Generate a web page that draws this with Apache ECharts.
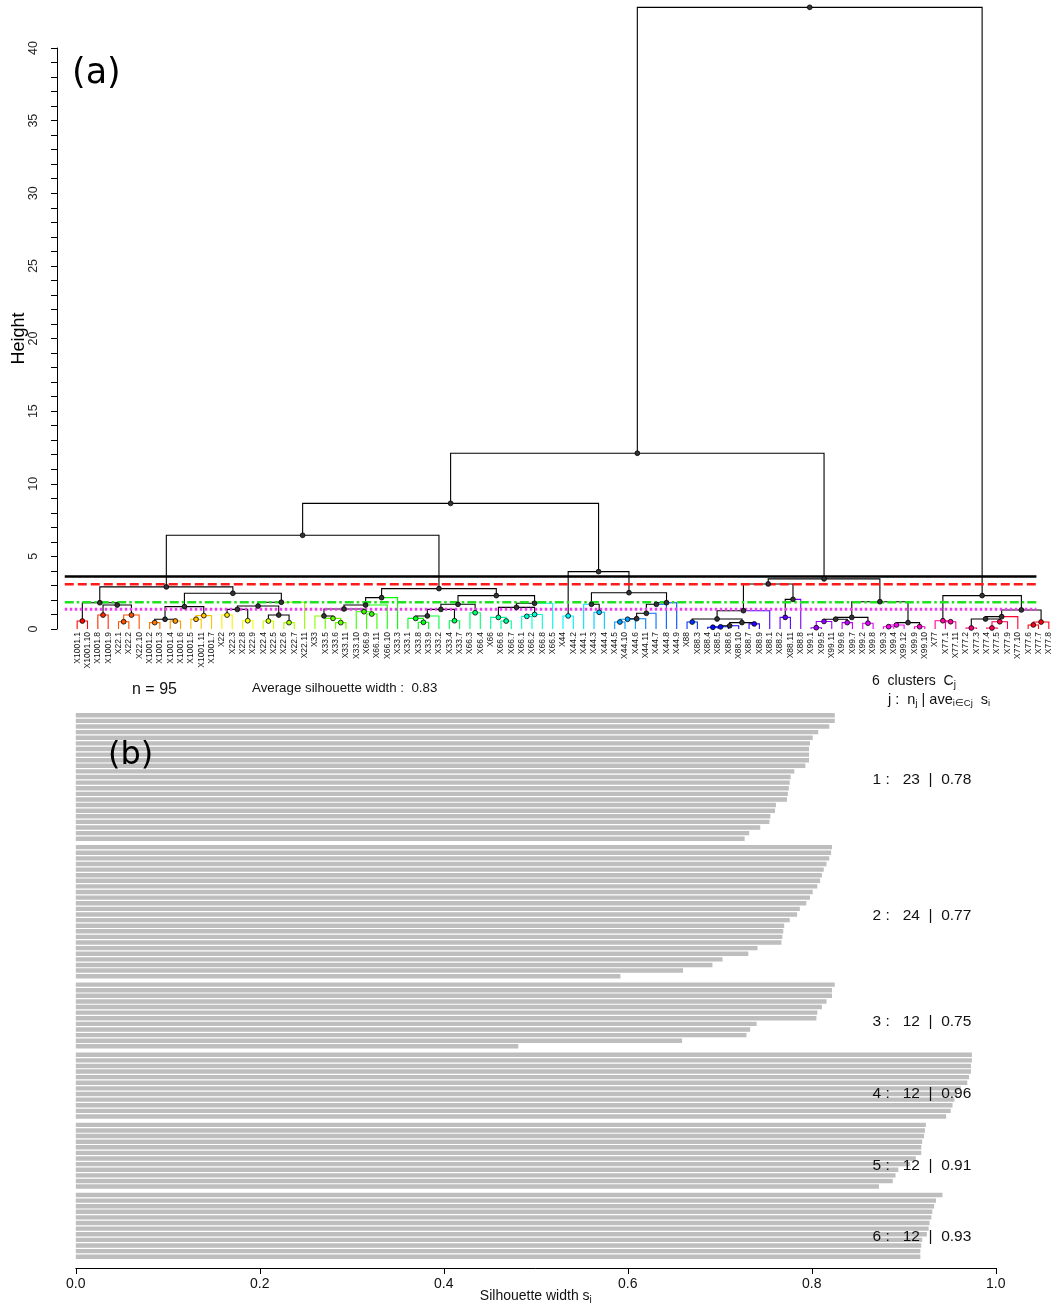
<!DOCTYPE html>
<html>
<head>
<meta charset="utf-8">
<title>Dendrogram and silhouette plot</title>
<script src="https://cdn.jsdelivr.net/npm/echarts@6/dist/echarts.min.js"></script>
<style>
  html, body { margin: 0; padding: 0; background: #fff; }
  #chart { width: 1054px; height: 1305px; }
</style>
</head>
<body>
<div id="chart"></div>
<script>
// leaves in dendrogram order
const leafLabels = [
  'X1001.1','X1001.10','X1001.8','X1001.9','X22.1','X22.2','X22.10','X1001.2','X1001.3','X1001.4','X1001.6','X1001.5',
  'X1001.11','X1001.7','X22','X22.3','X22.8','X22.9','X22.4','X22.5','X22.6','X22.7','X22.11',
  'X33','X33.5','X33.6','X33.11','X33.10','X66.9','X66.11','X66.10','X33.3','X33.1','X33.8','X33.9','X33.2',
  'X33.4','X33.7','X66.3','X66.4','X66','X66.6','X66.7','X66.1','X66.2','X66.8','X66.5',
  'X44','X44.2','X44.1','X44.3','X44.4','X44.5','X44.10','X44.6','X44.11','X44.7','X44.8','X44.9',
  'X88','X88.3','X88.4','X88.5','X88.6','X88.10','X88.7','X88.9','X88.1','X88.2','X88.11','X88.8',
  'X99.1','X99.5','X99.11','X99.6','X99.7','X99.2','X99.8','X99.3','X99.4','X99.12','X99.9','X99.10',
  'X77','X77.1','X77.11','X77.2','X77.3','X77.4','X77.5','X77.9','X77.10','X77.6','X77.7','X77.8'
];

// merges: [left, right, height], a number is a leaf index
const treeC1 = [
  [[0, 1, 0.55], [[2, 3, 0.96], [[4, 5, 0.5], 6, 0.96], 1.65], 1.81],
  [[[[7, 8, 0.44], [9, 10, 0.55], 0.67], [[11, 12, 0.67], 13, 0.92], 1.54],
   [[[[14, 15, 0.96], [16, 17, 0.57], 1.35], [[18, 19, 0.55], [20, 21, 0.44], 0.96], 1.58], 22, 1.84], 2.46],
  2.9];
const treeC2 = [
  [[[[23, [24, [25, 26, 0.44], 0.73], 0.9], [27, [28, 29, 1.03], 1.19], 1.38], 30, 1.65], 31, 2.16],
  [[[[[32, [33, 34, 0.46], 0.73], 35, 0.9], [36, 37, 0.57], 1.35], [38, 39, 1.12], 1.7],
   [[[40, [41, 42, 0.55], 0.8], [[43, 44, 0.87], 45, 1.0], 1.49], 46, 1.77], 2.3],
  2.78];
const treeC3 = [[47, 48, 0.9],
  [[49, [50, 51, 1.15], 1.7], [[[[[[52, 53, 0.48], 54, 0.67], 55, 0.71], 56, 1.08], 57, 1.7], 58, 1.81], 2.5],
  3.95];
const treeC4 = [
  [[[59, 60, 0.48], [[[[61, 62, 0.12], 63, 0.15], 64, 0.22], [65, 66, 0.35], 0.44], 0.69], 67, 1.26],
  [[68, 69, 0.8], 70, 2.04],
  3.1];
const treeC5 = [
  [[[[71, 72, 0.09], 73, 0.52], [74, 75, 0.44], 0.67], [76, 77, 0.4], 0.8],
  [[[78, 79, 0.16], 80, 0.28], [81, 82, 0.16], 0.44],
  1.88];
const treeC6 = [
  [83, [84, 85, 0.5], 0.57],
  [[[[86, 87, 0.07], [[88, 89, 0.07], 90, 0.5], 0.69], 91, 0.85], [[92, 93, 0.28], 94, 0.48], 1.31],
  2.3];
const tree = [[[[treeC1, treeC2, 6.45], treeC3, 8.65], [treeC4, treeC5, 3.45], 12.1], treeC6, 42.8];

const cutHeights = [3.62, 3.08, 1.85, 1.36];
const heightTicks = [0, 5, 10, 15, 20, 25, 30, 35, 40];

// silhouette widths, per cluster, sorted
const silC1 = [0.825, 0.825, 0.819, 0.807, 0.801, 0.798, 0.797, 0.797, 0.797, 0.793, 0.781, 0.777,
               0.776, 0.775, 0.774, 0.773, 0.761, 0.760, 0.755, 0.754, 0.744, 0.732, 0.727];
const silC2 = [0.822, 0.821, 0.819, 0.816, 0.813, 0.811, 0.809, 0.806, 0.801, 0.798, 0.794, 0.787,
               0.784, 0.776, 0.770, 0.769, 0.768, 0.767, 0.741, 0.731, 0.703, 0.692, 0.660, 0.592];
const silC3 = [0.825, 0.822, 0.822, 0.816, 0.811, 0.806, 0.805, 0.740, 0.733, 0.729, 0.659, 0.481];
const silC4 = [0.974, 0.974, 0.973, 0.973, 0.971, 0.969, 0.962, 0.958, 0.955, 0.953, 0.951, 0.946];
const silC5 = [0.924, 0.923, 0.922, 0.920, 0.919, 0.919, 0.913, 0.907, 0.894, 0.891, 0.888, 0.873];
const silC6 = [0.942, 0.935, 0.933, 0.931, 0.930, 0.928, 0.927, 0.925, 0.920, 0.919, 0.918, 0.918];
const silClusters = [silC1, silC2, silC3, silC4, silC5, silC6];
const silTicks = ['0.0', '0.2', '0.4', '0.6', '0.8', '1.0'];

// ---- dendrogram layout
const nodes = [];
function build(t) {
  if (typeof t === 'number') return { leaf: true, x: t, h: 0, size: 1, sum: t };
  const a = build(t[0]), b = build(t[1]);
  const n = { leaf: false, a: a, b: b, h: t[2], x: (a.x + b.x) / 2, size: a.size + b.size, sum: a.sum + b.sum };
  nodes.push(n);
  return n;
}
const root = build(tree);

function hue(idx) {
  return 'hsl(' + (Math.round(idx / (leafLabels.length - 1) * 360) % 360) + ',100%,50%)';
}
function paint(n, col) {
  if (n.leaf) { n.color = col || hue(n.x); return; }
  if (!col && n.size <= 3 && n.h < 1.2) col = hue(n.sum / n.size);
  n.color = col;
  paint(n.a, col);
  paint(n.b, col);
}
paint(root, null);

function edgeColor(p, c) {
  if (p.color) return p.color;
  if (c.leaf) return c.color;
  return '#000';
}

// ---- silhouette layout
const GAP = 0.5;
const silBars = [];
const clusterRows = [];
let row = 0;
silClusters.forEach(function (vals, c) {
  vals.forEach(function (v, k) { silBars.push([v, row + k + GAP * c]); });
  const ave = vals.reduce(function (s, v) { return s + v; }, 0) / vals.length;
  clusterRows.push([c + 1, row + (vals.length - 1) / 2 + 0.8 * c + 0.5, vals.length, ave]);
  row += vals.length;
});
const nTotal = silBars.length;
const aveTotal = silBars.reduce(function (s, b) { return s + b[0]; }, 0) / nTotal;

const cutStart = -1.2, cutEnd = 92.8;
const cutStyles = [
  { stroke: '#000', lineWidth: 2.5 },
  { stroke: '#ff1a1a', lineWidth: 2.5, lineDash: [9, 4] },
  { stroke: '#22e022', lineWidth: 2.5, lineDash: [9, 3, 2.5, 3] },
  { stroke: '#f03cf0', lineWidth: 3, lineDash: [2.5, 2.5] }
];

const chart = echarts.init(document.getElementById('chart'));
chart.setOption({
  animation: false,
  backgroundColor: '#fff',
  textStyle: { fontFamily: 'Liberation Sans, Arial, sans-serif' },
  grid: [
    { left: 72, right: 0, top: 48, height: 581, outerBoundsMode: 'none', containLabel: false },
    { left: 75.8, width: 920, top: 712.5, height: 547, outerBoundsMode: 'none', containLabel: false }
  ],
  xAxis: [
    {
      type: 'category', gridIndex: 0, data: leafLabels,
      axisLine: { show: false, onZero: false }, axisTick: { show: false },
      axisLabel: { interval: 0, rotate: 90, fontSize: 8.5, margin: 3, color: '#111' }
    },
    { type: 'value', gridIndex: 0, min: -0.5, max: 94.5, show: false, axisLine: { onZero: false } },
    {
      type: 'value', gridIndex: 1, min: 0, max: 1, interval: 0.2, offset: 8.5,
      axisLine: { onZero: false, lineStyle: { color: '#000' } },
      axisTick: { length: 6, lineStyle: { color: '#000' } },
      splitLine: { show: false },
      axisLabel: {
        margin: 9, fontSize: 14, color: '#111',
        formatter: function (v) { return silTicks[Math.round(v * 5)]; }
      },
      name: 'Silhouette width s{s|i}', nameLocation: 'middle', nameGap: 19, nameMoveOverlap: false,
      nameTextStyle: {
        fontSize: 14, color: '#111',
        rich: { s: { fontSize: 10, verticalAlign: 'bottom', padding: [8, 0, 0, 0] } }
      }
    }
  ],
  yAxis: [
    {
      type: 'value', gridIndex: 0, min: 0, max: 40, interval: 1, offset: 15,
      axisLine: { show: true, onZero: false, lineStyle: { color: '#000' } },
      axisTick: { show: true, length: 6, lineStyle: { color: '#000' } },
      splitLine: { show: false },
      axisLabel: {
        rotate: 90, fontSize: 12.5, margin: 17, color: '#222',
        formatter: function (v) { return heightTicks.indexOf(v) >= 0 ? String(v) : ''; }
      },
      name: 'Height', nameLocation: 'middle', nameRotate: 90, nameGap: 29, nameMoveOverlap: false,
      nameTextStyle: { fontSize: 18, color: '#000' }
    },
    { type: 'value', gridIndex: 1, inverse: true, min: -0.5, max: 97, show: false, axisLine: { onZero: false } }
  ],
  graphic: [
    { type: 'text', z: 20, left: 72, top: 56, style: { text: '(a)', fontSize: 35, fontFamily: 'DejaVu Sans', fill: '#000' } },
    { type: 'text', z: 20, left: 108, top: 740, style: { text: '(b)', fontSize: 32, fontFamily: 'DejaVu Sans', fill: '#000' } },
    { type: 'text', z: 20, left: 132, top: 682, style: { text: 'n = ' + nTotal, fontSize: 16, fill: '#111' } },
    { type: 'text', z: 20, left: 252, top: 682, style: { text: 'Average silhouette width :  ' + aveTotal.toFixed(2), fontSize: 13.3, fill: '#111' } },
    {
      type: 'text', z: 20, left: 872, top: 674,
      style: {
        text: '{m|' + silClusters.length + '  clusters  C}{s|j}', fill: '#111',
        rich: { m: { fontSize: 14, lineHeight: 18 }, s: { fontSize: 10, lineHeight: 10, verticalAlign: 'bottom' } }
      }
    },
    {
      type: 'text', z: 20, left: 888, top: 692,
      style: {
        text: '{m|j :  n}{s|j}{m| | ave}{s|i\u2208Cj}{m|  s}{s|i}', fill: '#111',
        rich: { m: { fontSize: 14.5, lineHeight: 18 }, s: { fontSize: 9.5, lineHeight: 9, verticalAlign: 'bottom' } }
      }
    }
  ],
  series: [
    {
      type: 'custom', name: 'branches', xAxisIndex: 1, yAxisIndex: 0, clip: false, silent: true, z: 2,
      data: nodes.map(function (n) { return [n.x, n.h]; }),
      renderItem: function (params, api) {
        const n = nodes[params.dataIndex];
        const p = api.coord([n.x, n.h]);
        return {
          type: 'group',
          children: [n.a, n.b].map(function (c) {
            return {
              type: 'polyline',
              shape: { points: [api.coord([c.x, c.h]), api.coord([c.x, n.h]), p] },
              style: { stroke: edgeColor(n, c), lineWidth: 1.1, fill: null }
            };
          })
        };
      }
    },
    {
      type: 'custom', name: 'cuts', xAxisIndex: 1, yAxisIndex: 0, clip: false, silent: true, z: 3,
      data: cutHeights.map(function (h) { return [cutStart, h]; }),
      renderItem: function (params, api) {
        const h = api.value(1);
        const a = api.coord([cutStart, h]), b = api.coord([cutEnd, h]);
        return {
          type: 'line', shape: { x1: a[0], y1: a[1], x2: b[0], y2: b[1] },
          style: Object.assign({ fill: null }, cutStyles[params.dataIndex])
        };
      }
    },
    {
      type: 'custom', name: 'nodes', xAxisIndex: 1, yAxisIndex: 0, clip: false, silent: true, z: 4,
      data: nodes.map(function (n) { return [n.x, n.h]; }),
      renderItem: function (params, api) {
        const n = nodes[params.dataIndex];
        const p = api.coord([n.x, n.h]);
        return {
          type: 'circle', shape: { cx: p[0], cy: p[1], r: 2.4 },
          style: { fill: n.color || '#333', stroke: '#000', lineWidth: 0.8 }
        };
      }
    },
    {
      type: 'custom', name: 'silhouette', xAxisIndex: 2, yAxisIndex: 1, silent: true, z: 2,
      data: silBars,
      renderItem: function (params, api) {
        const a = api.coord([0, api.value(1)]);
        const b = api.coord([api.value(0), api.value(1)]);
        return { type: 'rect', shape: { x: a[0], y: a[1] - 2.2, width: b[0] - a[0], height: 4.4 }, style: { fill: '#bebebe' } };
      }
    },
    {
      type: 'custom', name: 'clusterStats', xAxisIndex: 2, yAxisIndex: 1, clip: false, silent: true, z: 5,
      data: clusterRows,
      renderItem: function (params, api) {
        const r = clusterRows[params.dataIndex];
        const p = api.coord([0.866, r[1]]);
        return {
          type: 'text', x: p[0], y: p[1],
          style: {
            text: r[0] + ' :   ' + r[2] + '  |  ' + r[3].toFixed(2),
            fontSize: 15.5, fill: '#111', textAlign: 'left', textVerticalAlign: 'middle',
            fontFamily: 'Liberation Sans, Arial, sans-serif'
          }
        };
      }
    }
  ]
});
</script>
</body>
</html>
